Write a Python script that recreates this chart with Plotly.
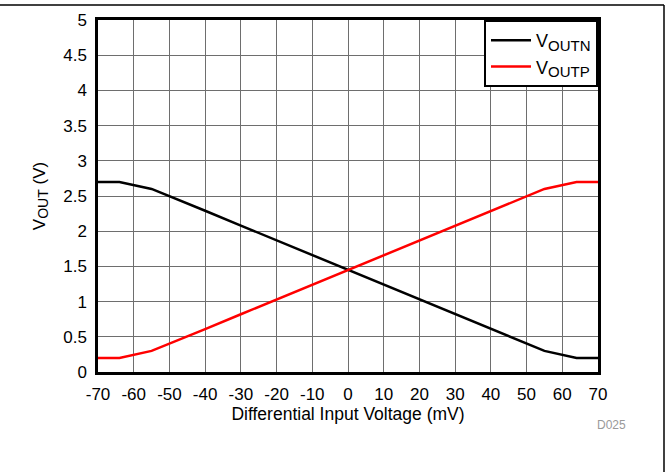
import plotly.graph_objects as go

x_mv = [-70, -64, -55, -50, -40, -30, -20, -10, 0, 10, 20, 30, 40, 50, 55, 64, 70]
voutn = [2.70, 2.70, 2.60, 2.50, 2.29, 2.08, 1.87, 1.66, 1.45, 1.24, 1.03, 0.82, 0.61, 0.40, 0.30, 0.20, 0.20]
voutp = [0.20, 0.20, 0.30, 0.40, 0.61, 0.82, 1.03, 1.24, 1.45, 1.66, 1.87, 2.08, 2.29, 2.50, 2.60, 2.70, 2.70]

x_ticks = list(range(-70, 71, 10))
x_labels = [str(v) for v in x_ticks]
y_ticks = [0, 0.5, 1, 1.5, 2, 2.5, 3, 3.5, 4, 4.5, 5]
y_labels = ["0", "0.5", "1", "1.5", "2", "2.5", "3", "3.5", "4", "4.5", "5"]

FONT = "Liberation Sans, Arial, sans-serif"
SUB = '<sub><span style="font-size:{}px">{}</span></sub>'

fig = go.Figure()
fig.add_trace(go.Scatter(x=x_mv, y=voutn, mode="lines", name="V" + SUB.format(15, "OUTN"),
                         line=dict(color="black", width=2.5)))
fig.add_trace(go.Scatter(x=x_mv, y=voutp, mode="lines", name="V" + SUB.format(15, "OUTP"),
                         line=dict(color="#ff0000", width=2.5)))

L, R, T, B = 98, 71, 20, 100
W, H = 669, 472
pw, ph = W - L - R, H - T - B

fig.update_layout(
    width=W, height=H,
    margin=dict(l=L, r=R, t=T, b=B),
    paper_bgcolor="white", plot_bgcolor="white",
    font=dict(family=FONT, size=17, color="black"),
    showlegend=True,
    legend=dict(x=1, y=1, xanchor="right", yanchor="top",
                bgcolor="white", bordercolor="black", borderwidth=2,
                font=dict(size=18), tracegroupgap=0, itemwidth=40),
    xaxis=dict(range=[-70, 70], tickmode="array", tickvals=x_ticks, ticktext=x_labels,
               showgrid=True, gridcolor="#6e6e6e", gridwidth=1,
               showline=True, linecolor="black", linewidth=2.5, mirror=True,
               ticks="", zeroline=False, ticklabelstandoff=5,
               tickfont=dict(size=17),
               title=dict(text="Differential Input Voltage (mV)", font=dict(size=17.5), standoff=2)),
    yaxis=dict(range=[0, 5], tickmode="array", tickvals=y_ticks, ticktext=y_labels,
               showgrid=True, gridcolor="#6e6e6e", gridwidth=1,
               showline=True, linecolor="black", linewidth=2.5, mirror=True,
               ticks="", zeroline=False, ticklabelstandoff=5,
               tickfont=dict(size=17),
               title=dict(text="V" + SUB.format(14, "OUT") + " (V)",
                          font=dict(size=17), standoff=14)),
)

# outer frame lines (top and right)
x0p = (0 - L) / pw
x1p = (664 - L) / pw
ytp = (H - B - 5) / ph
ybp = (H - B - H) / ph
fig.add_shape(type="line", xref="paper", yref="paper", x0=x0p, x1=x1p, y0=ytp, y1=ytp,
              line=dict(color="black", width=1.5))
fig.add_shape(type="line", xref="paper", yref="paper", x0=x1p, x1=x1p, y0=ytp, y1=ybp,
              line=dict(color="black", width=1.5))

fig.add_annotation(text="D025", xref="paper", yref="paper",
                   x=(611 - L) / pw, y=(H - B - 425) / ph, showarrow=False,
                   font=dict(size=12, color="#999999"), xanchor="center", yanchor="middle")

fig.write_html("out.html")
